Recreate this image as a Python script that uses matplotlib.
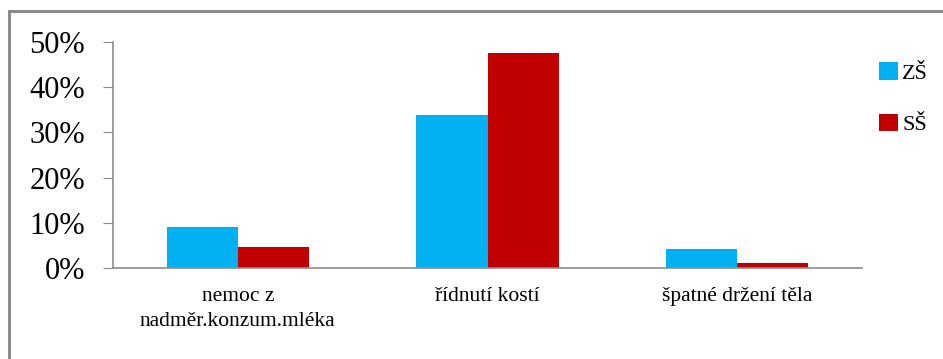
import matplotlib
matplotlib.use("Agg")
import matplotlib.pyplot as plt
from matplotlib.patches import Rectangle
from matplotlib.ticker import FuncFormatter
import numpy as np

categories = ["nemoc z\nnadměr.konzum.mléka", "řídnutí kostí", "špatné držení těla"]
series_names = ["ZŠ", "SŠ"]
zs_values = [9.1, 33.8, 4.1]
ss_values = [4.6, 47.5, 1.2]
y_ticks = [0, 10, 20, 30, 40, 50]
colors = ["#00B0F0", "#C00000"]

plt.rcParams["font.family"] = ["Liberation Serif", "DejaVu Serif"]

W, H = 943, 359
fig = plt.figure(figsize=(W / 100, H / 100), dpi=100)

# outer chart frame
fig.patches.append(Rectangle((9 / W, -0.1), 1.0, 1 - 11 / H + 0.1,
                             transform=fig.transFigure, fill=False,
                             edgecolor="#8c8c8c", linewidth=2.2))

ax = fig.add_axes([113 / W, 1 - 268 / H, (862 - 113) / W, (268 - 42) / H])
x = np.arange(len(categories))
bw = 0.285
ax.bar(x - bw / 2, zs_values, bw, color=colors[0], label=series_names[0])
ax.bar(x + bw / 2, ss_values, bw, color=colors[1], label=series_names[1])

ax.set_xlim(-0.5, 2.5)
ax.set_ylim(0, 50)
ax.set_yticks(y_ticks)
ax.yaxis.set_major_formatter(FuncFormatter(lambda v, p: f"{v:.0f}%"))
ax.set_xticks(x)
ax.set_xticklabels(categories, fontsize=15.5, linespacing=1.4)
ax.tick_params(axis="y", labelsize=22, length=7, color="#8c8c8c", pad=13)
ax.tick_params(axis="x", length=0, pad=14)

for s in ["top", "right"]:
    ax.spines[s].set_visible(False)
for s in ["left", "bottom"]:
    ax.spines[s].set_color("#8c8c8c")
    ax.spines[s].set_linewidth(1.2)

leg = fig.legend(loc="upper left", bbox_to_anchor=(879 / W, 1 - 62 / H),
                 frameon=False, fontsize=16, handlelength=0.85, handleheight=0.85,
                 handletextpad=0.2, labelspacing=1.35, borderpad=0,
                 borderaxespad=0)

fig.savefig("out.png", dpi=100)
